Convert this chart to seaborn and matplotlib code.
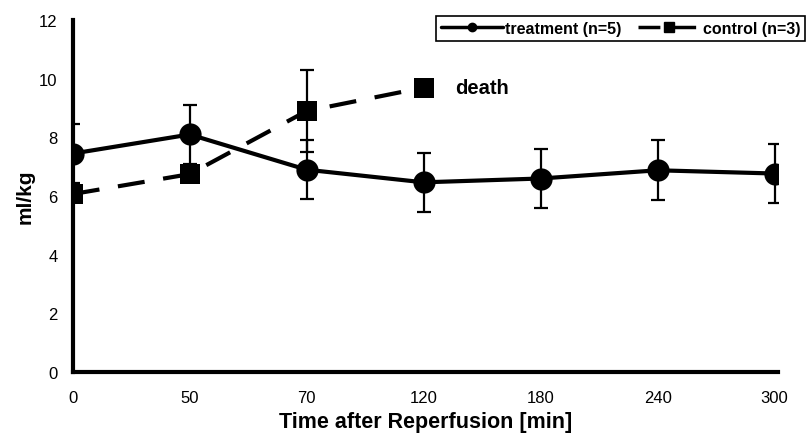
import numpy as np
import pandas as pd
import matplotlib
matplotlib.use("Agg")
import matplotlib.pyplot as plt
import seaborn as sns
from matplotlib.lines import Line2D

# ---- data ----
time_labels = ["0", "50", "70", "120", "180", "240", "300"]
treatment_mean = [7.45, 8.1, 6.9, 6.47, 6.6, 6.88, 6.77]
treatment_err = [1.0, 1.0, 1.0, 1.0, 1.0, 1.02, 1.0]
control_labels = ["0", "50", "70", "120"]
control_mean = [6.07, 6.75, 8.9, 9.7]
control_err = [0.0, 0.0, 1.4, 0.0]

sns.set_style("white")
plt.rcParams['font.family'] = ['Liberation Sans', 'DejaVu Sans']
plt.rcParams['text.color'] = 'black'
plt.rcParams['axes.labelcolor'] = 'black'
plt.rcParams['xtick.color'] = 'black'
plt.rcParams['ytick.color'] = 'black'

fig = plt.figure(figsize=(8.08, 4.39), dpi=100)
ax = fig.add_axes([0.090, 0.150, 0.873, 0.802])

pos = {lab: i for i, lab in enumerate(time_labels)}
df_t = pd.DataFrame({"x": [pos[l] for l in time_labels], "y": treatment_mean, "e": treatment_err})
df_c = pd.DataFrame({"x": [pos[l] for l in control_labels], "y": control_mean, "e": control_err})

# error bars
ax.errorbar(df_t["x"], df_t["y"], yerr=df_t["e"], fmt="none", ecolor="black",
            elinewidth=1.6, capsize=4.7, capthick=1.6, zorder=2)
ax.errorbar(df_c["x"], df_c["y"], yerr=df_c["e"], fmt="none", ecolor="black",
            elinewidth=1.6, capsize=4.7, capthick=1.6, zorder=2)

sns.lineplot(data=df_t, x="x", y="y", ax=ax, color="black", lw=3,
             marker="o", markersize=16, markeredgewidth=0, zorder=4, legend=False)
sns.lineplot(data=df_c, x="x", y="y", ax=ax, color="black", lw=3,
             marker="s", markersize=14, markeredgewidth=0, zorder=3, legend=False)
ax.lines[-1].set_dashes([6.5, 4.5])

ax.text(pos["120"] + 0.27, 9.7, "death", fontsize=14.5, fontweight="bold",
        va="center", ha="left", color="black")

ax.set_xlim(0, 6.03)
ax.set_ylim(0, 12)
ax.set_xticks(range(len(time_labels)))
ax.set_xticklabels(time_labels)
ax.set_yticks([0, 2, 4, 6, 8, 10, 12])
ax.tick_params(axis="both", labelsize=12, direction="out", length=4, width=2.5,
               colors="black", pad=6)
ax.tick_params(axis="x", pad=9)
ax.tick_params(axis="y", pad=8, length=3)
for s in ["top", "right"]:
    ax.spines[s].set_visible(False)
for s in ["left", "bottom"]:
    ax.spines[s].set_linewidth(3)
    ax.spines[s].set_color("black")

ax.set_xlabel("Time after Reperfusion [min]", fontsize=15.5, fontweight="bold", labelpad=4)
ax.set_ylabel("ml/kg", fontsize=15, fontweight="bold", labelpad=3)

handles = [
    Line2D([], [], color="black", lw=2.5, marker="o", markersize=6),
    Line2D([], [], color="black", lw=2.5, marker="s", markersize=7, dashes=[6.3, 4]),
]
leg = fig.legend(handles, ["treatment (n=5)", "control (n=3)"], ncol=2,
                 loc="upper left", bbox_to_anchor=(436 / 808, 1 - 17 / 439),
                 frameon=True, fancybox=False, edgecolor="black", framealpha=1,
                 prop={"weight": "bold", "size": 11.5}, handlelength=3.9,
                 handletextpad=0.15, columnspacing=1.0, borderpad=0.3,
                 borderaxespad=0)
leg.get_frame().set_linewidth(1.2)

fig.savefig("out.png", dpi=100)
